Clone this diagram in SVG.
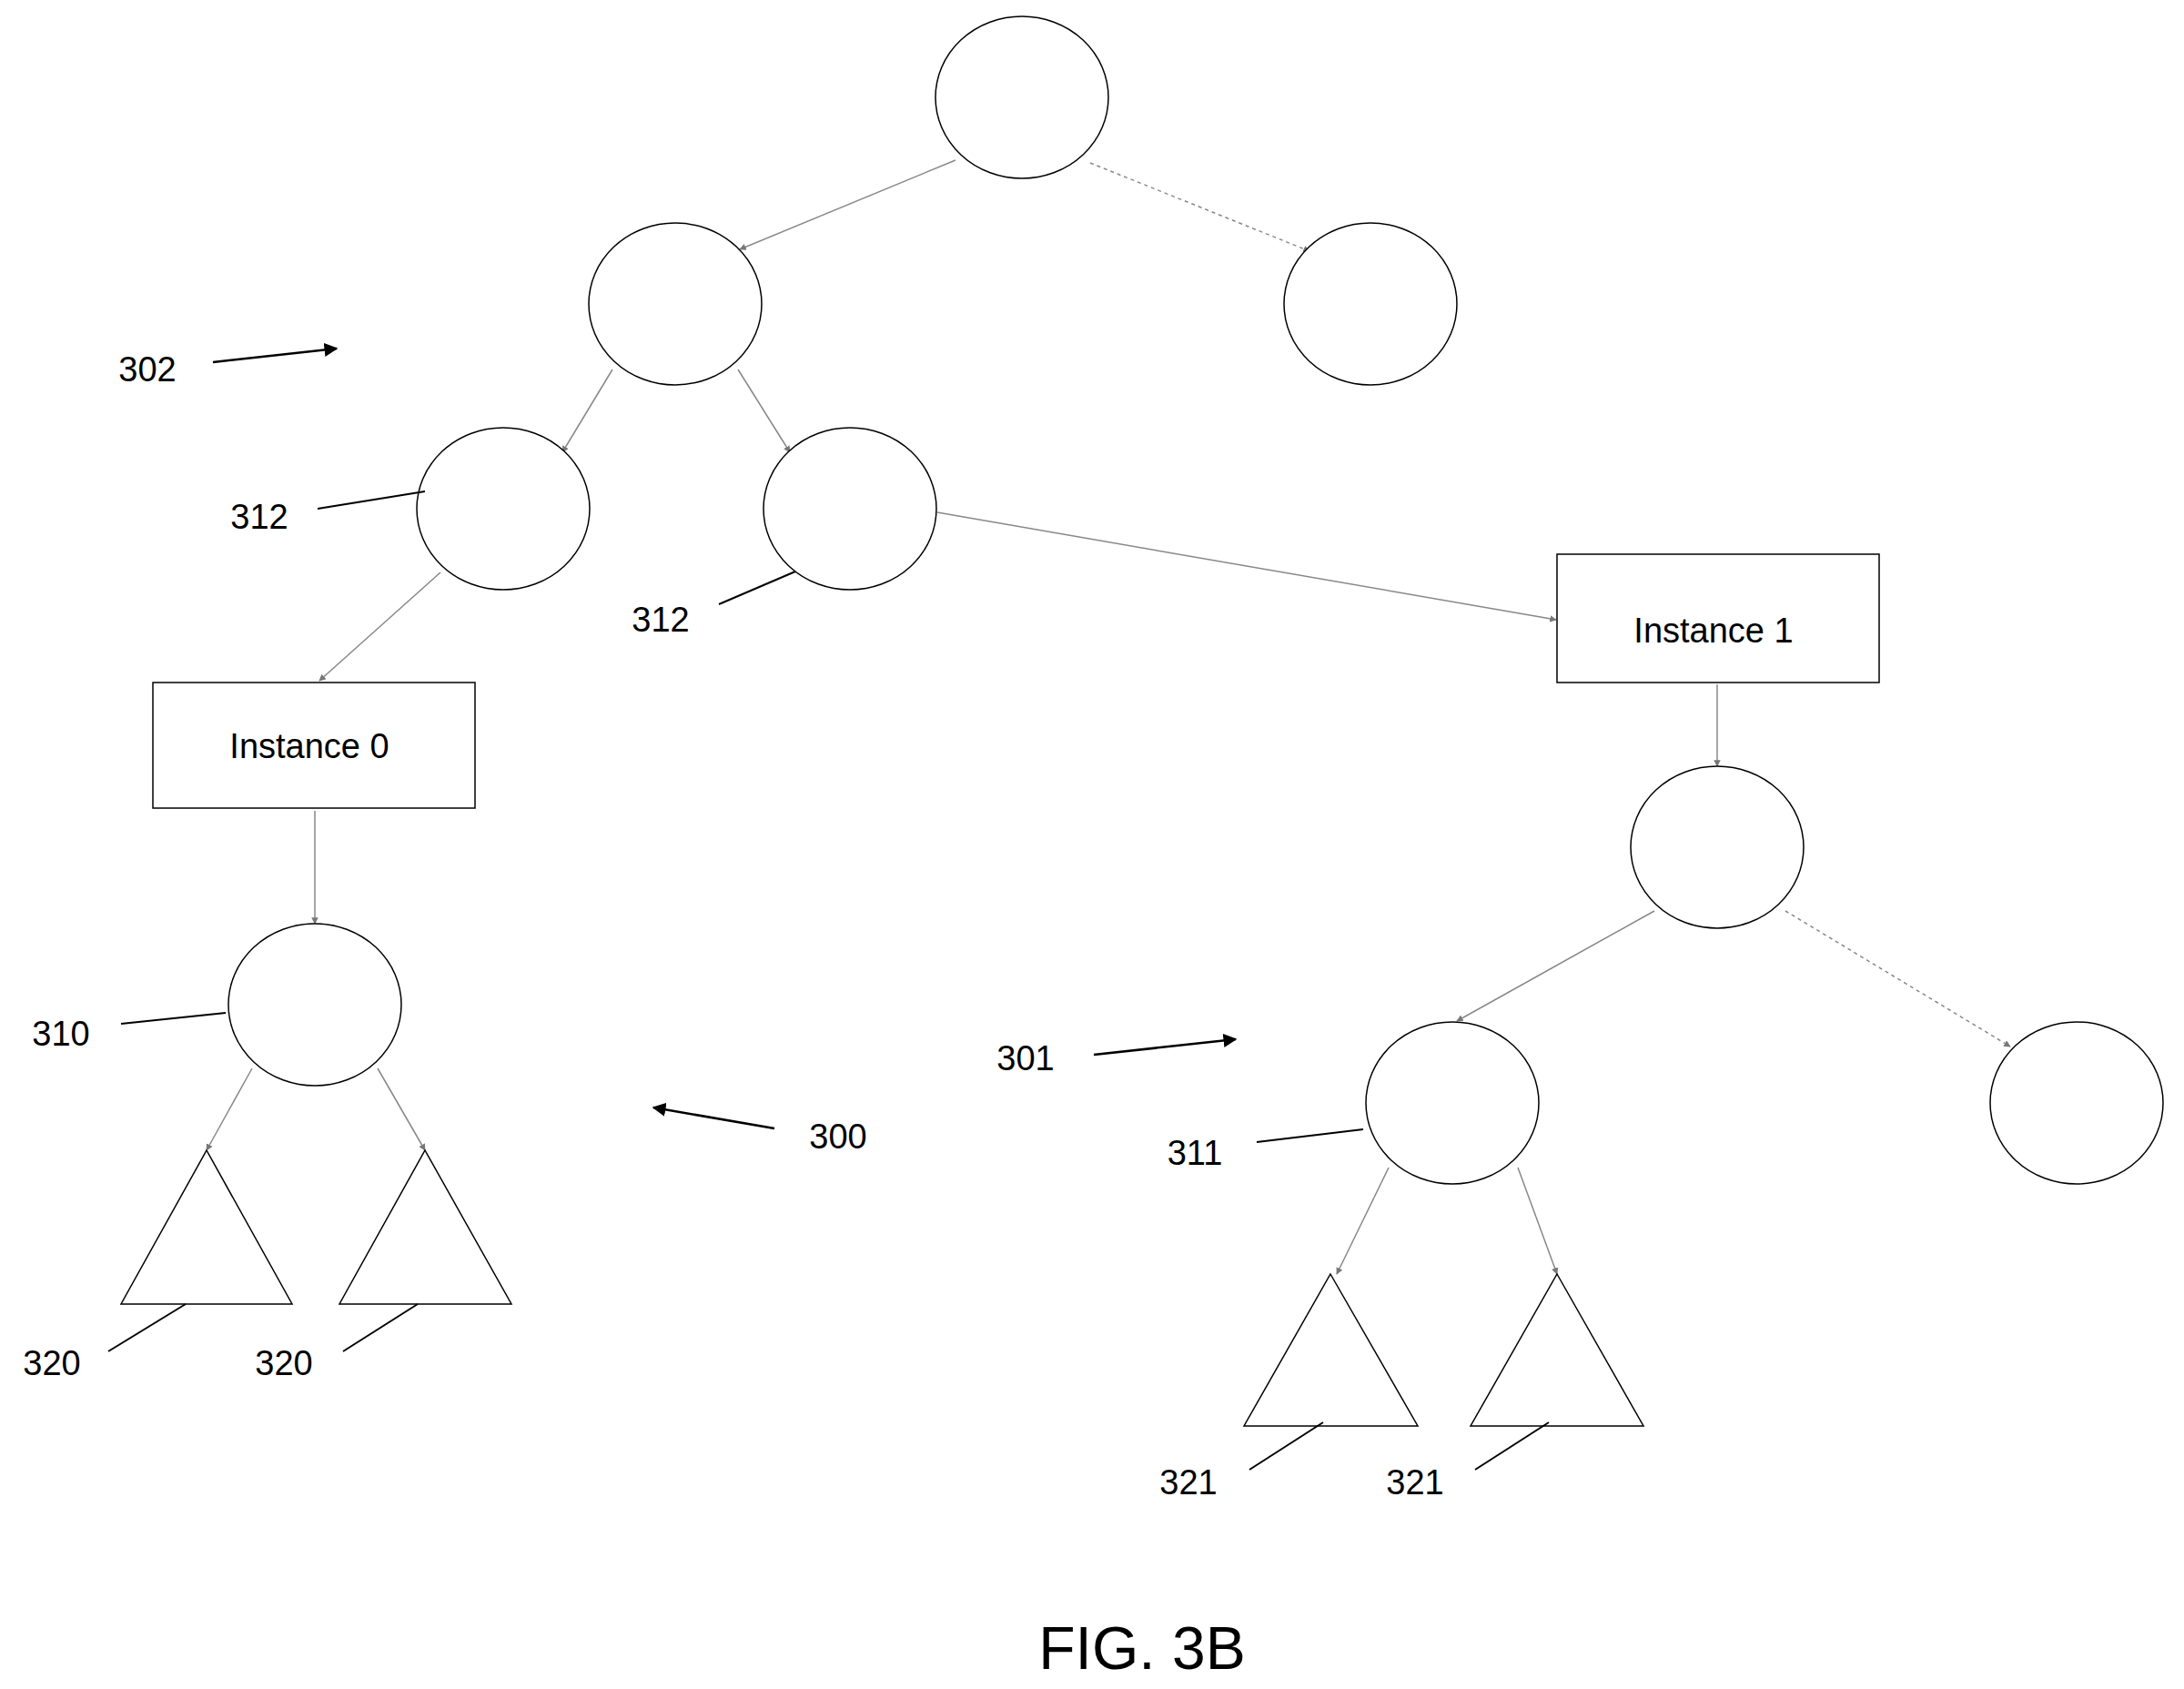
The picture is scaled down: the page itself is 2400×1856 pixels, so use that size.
<svg xmlns="http://www.w3.org/2000/svg" width="2400" height="1856" viewBox="0 0 2400 1856">
<defs>
<marker id="ga" viewBox="0 0 10 10" refX="9" refY="5" markerWidth="5" markerHeight="5" orient="auto"><path d="M0,0 L10,5 L0,10 z" fill="#777"/></marker>
<marker id="ba" viewBox="0 0 10 10" refX="9" refY="5" markerWidth="6" markerHeight="6" orient="auto"><path d="M0,0 L10,5 L0,10 z" fill="#000"/></marker>
</defs>
<style>
.n{fill:#fff;stroke:#000;stroke-width:1.5}
.e{stroke:#888;stroke-width:1.5;fill:none;marker-end:url(#ga)}
.d{stroke-dasharray:4 4}
.l{stroke:#000;stroke-width:2;fill:none}
.a{stroke:#000;stroke-width:2.5;fill:none;marker-end:url(#ba)}
text{font-family:"Liberation Sans",Carlito,sans-serif;font-size:38px;fill:#000;text-anchor:middle;dominant-baseline:central}
</style>
<rect width="2400" height="1856" fill="#fff"/>
<g id="connectors">
<line class="e" x1="1050" y1="176" x2="813" y2="274"/>
<line class="e d" x1="1198" y1="179" x2="1439" y2="276"/>
<line class="e" x1="673" y1="406" x2="618" y2="497"/>
<line class="e" x1="811" y1="406" x2="868" y2="497"/>
<line class="e" x1="1030" y1="563" x2="1710" y2="681"/>
<line class="e" x1="484" y1="629" x2="351" y2="748"/>
<line class="e" x1="346" y1="891" x2="346" y2="1015"/>
<line class="e" x1="1887" y1="752" x2="1887" y2="842"/>
<line class="e" x1="1818" y1="1001" x2="1601" y2="1122"/>
<line class="e d" x1="1962" y1="1001" x2="2209" y2="1150"/>
<line class="e" x1="277" y1="1174" x2="227" y2="1264"/>
<line class="e" x1="415" y1="1174" x2="467" y2="1264"/>
<line class="e" x1="1526" y1="1283" x2="1469" y2="1400"/>
<line class="e" x1="1668" y1="1283" x2="1711" y2="1400"/>
</g>
<g id="n_top"><ellipse class="n" cx="1123" cy="107" rx="95" ry="89"/></g>
<g id="n_l1"><ellipse class="n" cx="742" cy="334" rx="95" ry="89"/></g>
<g id="n_r1"><ellipse class="n" cx="1506" cy="334" rx="95" ry="89"/></g>
<g id="n_312a"><ellipse class="n" cx="553" cy="559" rx="95" ry="89"/></g>
<g id="n_312b"><ellipse class="n" cx="934" cy="559" rx="95" ry="89"/></g>
<g id="inst1"><rect class="n" x="1711" y="609" width="354" height="141"/><text x="1883" y="693">Instance 1</text></g>
<g id="inst0"><rect class="n" x="168" y="750" width="354" height="138"/><text x="340" y="820">Instance 0</text></g>
<g id="n_i1c"><ellipse class="n" cx="1887" cy="931" rx="95" ry="89"/></g>
<g id="n_310"><ellipse class="n" cx="346" cy="1104" rx="95" ry="89"/></g>
<g id="n_311"><ellipse class="n" cx="1596" cy="1212" rx="95" ry="89"/></g>
<g id="n_r3"><ellipse class="n" cx="2282" cy="1212" rx="95" ry="89"/></g>
<g id="t320a"><polygon class="n" points="227,1264 321,1433 133,1433"/></g>
<g id="t320b"><polygon class="n" points="467,1264 562,1433 373,1433"/></g>
<g id="t321a"><polygon class="n" points="1462,1400 1558,1567 1367,1567"/></g>
<g id="t321b"><polygon class="n" points="1711,1400 1806,1567 1616,1567"/></g>
<g id="labels">
<text x="162" y="406">302</text><line class="a" x1="234" y1="398" x2="370" y2="383"/>
<text x="285" y="568">312</text><line class="l" x1="349" y1="559" x2="467" y2="540"/>
<text x="726" y="681">312</text><line class="l" x1="790" y1="664" x2="874" y2="628"/>
<text x="67" y="1136">310</text><line class="l" x1="133" y1="1125" x2="248" y2="1113"/>
<text x="921" y="1249">300</text><line class="a" x1="851" y1="1240" x2="718" y2="1217"/>
<text x="1127" y="1163">301</text><line class="a" x1="1202" y1="1159" x2="1358" y2="1142"/>
<text x="1313" y="1267">311</text><line class="l" x1="1381" y1="1255" x2="1498" y2="1241"/>
<text x="57" y="1498">320</text><line class="l" x1="119" y1="1485" x2="204" y2="1433"/>
<text x="312" y="1498">320</text><line class="l" x1="377" y1="1485" x2="459" y2="1433"/>
<text x="1306" y="1629">321</text><line class="l" x1="1373" y1="1615" x2="1454" y2="1563"/>
<text x="1555" y="1629">321</text><line class="l" x1="1621" y1="1615" x2="1702" y2="1563"/>
<text x="1255" y="1811" style="font-size:66px">FIG. 3B</text>
</g>
</svg>
